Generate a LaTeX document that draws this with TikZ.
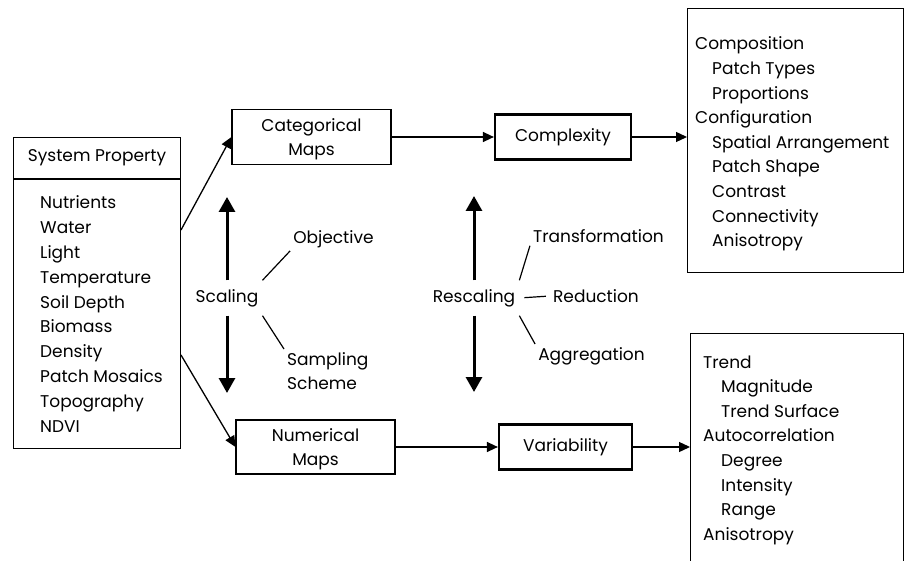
\documentclass[tikz,border=0pt]{standalone}
\usepackage{fontspec}
\setmainfont{Poppins}
\usetikzlibrary{arrows.meta}
\begin{document}
\begin{tikzpicture}[x=1pt, y=-1pt]
\tikzstyle{every node}=[font=\fontsize{17}{24.6}\selectfont, inner sep=0pt];
\tikzstyle{box}=[draw, line width=1.1pt];
\tikzstyle{boldbox}=[draw, line width=2.2pt];
\tikzstyle{arr}=[line width=1.3pt, -{Triangle[length=11pt,width=10pt]}];
\tikzstyle{bigarr}=[line width=3pt, -{Triangle[length=15pt,width=16pt]}];
\tikzstyle{hub}=[minimum height=35pt, inner xsep=4pt];
\tikzstyle{leaf}=[inner sep=3pt, align=left];
\useasboundingbox (0,0) rectangle (905,561);
\clip (0,0) rectangle (905,561);
% system property
\node[box, minimum width=167pt, minimum height=41pt, anchor=north west] (sp) at (13,137) {System Property};
\node[box, minimum width=167pt, minimum height=269pt, anchor=north west] (props) at (sp.south west) {};
\foreach \t [count=\i] in {Nutrients, Water, Light, Temperature, Soil Depth, Biomass, Density, Patch Mosaics, Topography, NDVI}
  \node[anchor=base west] (p\i) at (40, 209+24.8*\i-24.8) {\t};
% maps
\node[box, minimum width=159pt, minimum height=55pt, align=center, text depth=0pt] (catmap) at (311.5,137) {Categorical\\Maps};
\node[box, minimum width=159pt, minimum height=54pt, align=center, text depth=0pt] (nummap) at (315.5,447) {Numerical\\Maps};
\node[boldbox, minimum width=136pt, minimum height=45pt] (cplx) at (563,137) {Complexity};
\node[boldbox, minimum width=133pt, minimum height=45pt] (vary) at (565.5,447) {Variability};
% result lists
\node[box, minimum width=216pt, minimum height=264pt, anchor=north west] (cplxbox) at (687,8) {};
\foreach \x/\t [count=\i] in {695/Composition, 712/Patch Types, 712/Proportions, 695/Configuration, 712/Spatial Arrangement, 712/Patch Shape, 712/Contrast, 712/Connectivity, 712/Anisotropy}
  \node[anchor=base west] (c\i) at (\x, 50+24.6*\i-24.6) {\t};
\node[box, minimum width=213pt, minimum height=240pt, anchor=north west] (varybox) at (690,333) {};
\foreach \x/\t [count=\i] in {703/Trend, 721/Magnitude, 721/Trend Surface, 703/Autocorrelation, 721/Degree, 721/Intensity, 721/Range, 703/Anisotropy}
  \node[anchor=base west] (v\i) at (\x, 368+24.6*\i-24.6) {\t};
% scaling and rescaling
\node[hub] (scal) at (227,298) {Scaling};
\node[leaf] (obj) at (333.5,239) {Objective};
\node[leaf, anchor=north west] (samp) at (284,349) {Sampling\\Scheme};
\node[hub] (resc) at (474,298) {Rescaling};
\node[leaf] (trans) at (598.5,236) {Transformation};
\node[leaf] (red) at (596,296) {Reduction};
\node[leaf] (agg) at (591.5,356) {Aggregation};
\coordinate (scaltop) at (227,197);
\coordinate (scalbot) at (227,393);
\coordinate (resctop) at (474,196);
\coordinate (rescbot) at (474,392);
\coordinate (pcat) at (181,230);
\coordinate (pnum) at (181,355);
\draw[arr] (pcat) -- (catmap.west);
\draw[arr] (pnum) -- (nummap.west);
\draw[arr] (catmap.east) -- (cplx.west);
\draw[arr] (nummap.east) -- (vary.west);
\draw[arr] (cplx.east) -- (cplxbox.west |- cplx.east);
\draw[arr] (vary.east) -- (varybox.west |- vary.east);
\draw[bigarr] (scal) -- (scaltop);
\draw[bigarr] (scal) -- (scalbot);
\draw[bigarr] (resc) -- (resctop);
\draw[bigarr] (resc) -- (rescbot);
\draw[line width=1.2pt] (scal.north east) -- (obj.south west)
(scal.south east) -- (samp.north west)
(resc.north east) -- (trans.south west)
(resc.south east) -- (agg.north west);
\draw[line width=1.2pt, shorten <=5pt, shorten >=4pt] (resc.east) -- (red.west);
\end{tikzpicture}
\end{document}
